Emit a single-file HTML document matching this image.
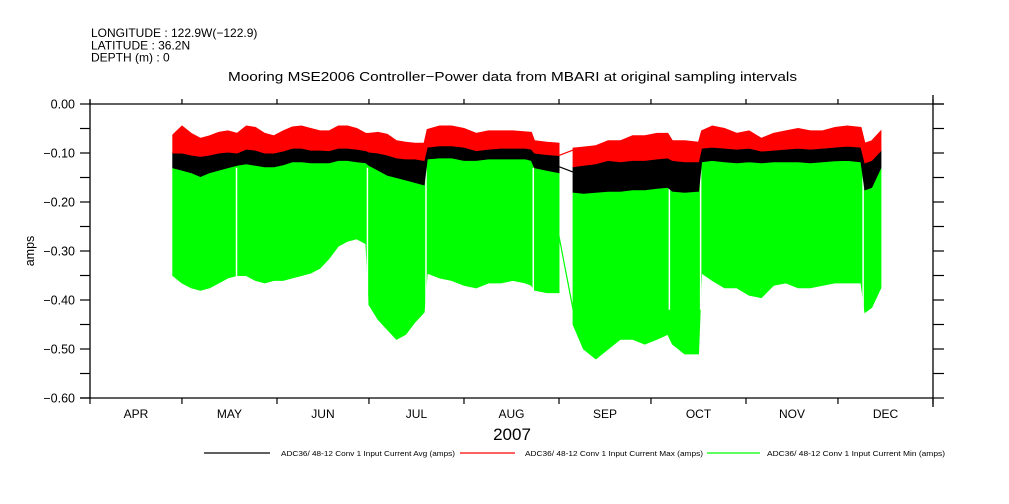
<!DOCTYPE html>
<html><head><meta charset="utf-8"><style>
html,body{margin:0;padding:0;background:#fff;}
svg{display:block;font-family:"Liberation Sans",sans-serif;}
</style></head><body>
<svg id="chart" width="1009" height="504" viewBox="0 0 1009 504" xmlns="http://www.w3.org/2000/svg">
<g font-size="12" fill="#000">
<text x="91" y="37">LONGITUDE : 122.9W(−122.9)</text>
<text x="91" y="49.5">LATITUDE : 36.2N</text>
<text x="91" y="61.5">DEPTH (m) : 0</text>
</g>
<text x="228" y="81" textLength="569" lengthAdjust="spacingAndGlyphs" font-size="13">Mooring MSE2006 Controller−Power data from MBARI at original sampling intervals</text>
<g id="plot"></g>
<g id="axes"></g>
<text transform="translate(34,251) rotate(-90)" text-anchor="middle" font-size="12.5">amps</text>
<text x="512" y="440" text-anchor="middle" font-size="17">2007</text>
<g font-size="7.5">
<line x1="204" y1="453" x2="270" y2="453" stroke="#000" stroke-width="1.2"/>
<text x="281" y="456" textLength="174" lengthAdjust="spacingAndGlyphs">ADC36/ 48-12 Conv 1 Input Current Avg (amps)</text>
<line x1="460" y1="453" x2="515" y2="453" stroke="#f00" stroke-width="1.2"/>
<text x="525" y="456" textLength="178" lengthAdjust="spacingAndGlyphs">ADC36/ 48-12 Conv 1 Input Current Max (amps)</text>
<line x1="707" y1="453" x2="760" y2="453" stroke="#0f0" stroke-width="1.2"/>
<text x="767" y="456" textLength="178" lengthAdjust="spacingAndGlyphs">ADC36/ 48-12 Conv 1 Input Current Min (amps)</text>
</g>
</svg>
<script>
// days since Apr 1 2007
const segA_days=[27,30,33,36,39,42,45,48,51,54,57,60,63,66,69,72,75,78,81,84,87,90,91,94,97,100,103,106,109,110,114,118,122,126,130,134,138,142,144,145,149,153];
const segA_maxHi=[-0.063,-0.045,-0.060,-0.070,-0.065,-0.058,-0.055,-0.060,-0.045,-0.048,-0.060,-0.065,-0.055,-0.047,-0.045,-0.050,-0.055,-0.055,-0.045,-0.045,-0.050,-0.060,-0.060,-0.058,-0.062,-0.075,-0.078,-0.080,-0.080,-0.052,-0.045,-0.045,-0.050,-0.060,-0.055,-0.055,-0.055,-0.057,-0.058,-0.075,-0.078,-0.080];
const segA_avgHi=[-0.100,-0.100,-0.104,-0.107,-0.104,-0.100,-0.098,-0.100,-0.092,-0.094,-0.100,-0.100,-0.096,-0.090,-0.090,-0.094,-0.094,-0.095,-0.090,-0.090,-0.092,-0.095,-0.098,-0.100,-0.104,-0.110,-0.112,-0.112,-0.115,-0.088,-0.085,-0.085,-0.088,-0.095,-0.092,-0.090,-0.090,-0.090,-0.092,-0.100,-0.103,-0.105];
const segA_avgLo=[-0.130,-0.135,-0.140,-0.148,-0.140,-0.135,-0.130,-0.125,-0.122,-0.125,-0.128,-0.128,-0.124,-0.118,-0.118,-0.120,-0.120,-0.120,-0.115,-0.115,-0.118,-0.120,-0.125,-0.135,-0.145,-0.150,-0.155,-0.160,-0.165,-0.112,-0.110,-0.110,-0.115,-0.115,-0.112,-0.112,-0.112,-0.112,-0.115,-0.130,-0.135,-0.140];
const segA_minLo=[-0.35,-0.365,-0.375,-0.38,-0.375,-0.365,-0.355,-0.35,-0.35,-0.36,-0.365,-0.36,-0.36,-0.355,-0.35,-0.345,-0.335,-0.315,-0.29,-0.28,-0.275,-0.285,-0.41,-0.44,-0.46,-0.48,-0.47,-0.445,-0.425,-0.345,-0.355,-0.36,-0.37,-0.375,-0.365,-0.365,-0.36,-0.365,-0.37,-0.38,-0.385,-0.385];
const segB_days=[157.6,161,165,169,173,177,181,185,188.5,190,194,198.5,199.5,203,207,211,215,219,223,227,231,235,239,243,247,251.5,252.8,255,258];
const segB_maxHi=[-0.090,-0.088,-0.085,-0.075,-0.075,-0.065,-0.065,-0.060,-0.060,-0.075,-0.075,-0.078,-0.055,-0.045,-0.050,-0.060,-0.055,-0.070,-0.060,-0.055,-0.050,-0.055,-0.055,-0.048,-0.045,-0.048,-0.080,-0.075,-0.055];
const segB_avgHi=[-0.128,-0.125,-0.122,-0.115,-0.118,-0.115,-0.115,-0.112,-0.110,-0.115,-0.118,-0.118,-0.090,-0.088,-0.090,-0.092,-0.090,-0.096,-0.094,-0.092,-0.090,-0.092,-0.090,-0.088,-0.086,-0.088,-0.120,-0.115,-0.095];
const segB_avgLo=[-0.180,-0.182,-0.180,-0.178,-0.178,-0.175,-0.175,-0.172,-0.170,-0.178,-0.180,-0.178,-0.118,-0.115,-0.118,-0.120,-0.118,-0.120,-0.118,-0.118,-0.118,-0.120,-0.118,-0.116,-0.115,-0.118,-0.175,-0.170,-0.130];
const segB_minLo=[-0.45,-0.50,-0.52,-0.50,-0.48,-0.48,-0.49,-0.48,-0.47,-0.49,-0.51,-0.51,-0.345,-0.36,-0.375,-0.375,-0.39,-0.395,-0.37,-0.365,-0.375,-0.375,-0.37,-0.365,-0.365,-0.365,-0.425,-0.415,-0.375];
const gapDays=[153,157.6];
const gapMax=[-0.105,-0.094];
const gapAvg=[-0.128,-0.139];
const gapMin=[-0.27,-0.42];
const dropoutDays=[47.8,90.5,109.6,144.6,189,199.2,252.2];
const monthTickDays=[0,30,61,91,122,153,183,214,244,275];
const monthLabels=["APR","MAY","JUN","JUL","AUG","SEP","OCT","NOV","DEC"];
const yTickValues=[0,-0.1,-0.2,-0.3,-0.4,-0.5,-0.6];
const yTickLabels=["0.00","-0.10","-0.20","-0.30","-0.40","-0.50","-0.60"];

const X0=90,X1=933,Y0=104,Y1=398;
const xs=d=>X0+d*(X1-X0)/275;
const ys=v=>Y0+(0-v)*(Y1-Y0)/0.6;
const NS="http://www.w3.org/2000/svg";
const plot=document.getElementById('plot'),axes=document.getElementById('axes');
function mk(tag,attrs,parent){const e=document.createElementNS(NS,tag);for(const k in attrs)e.setAttribute(k,attrs[k]);parent.appendChild(e);return e;}
function band(days,hi,lo,color,name){
  let p=days.map((d,i)=>xs(d).toFixed(1)+','+ys(hi[i]).toFixed(1));
  for(let i=days.length-1;i>=0;i--)p.push(xs(days[i]).toFixed(1)+','+ys(lo[i]).toFixed(1));
  const e=mk('polygon',{points:p.join(' '),fill:color,stroke:color,'stroke-width':1},plot);
  
  
}
const segs=[[segA_days,segA_maxHi,segA_avgHi,segA_avgLo,segA_minLo,'a'],[segB_days,segB_maxHi,segB_avgHi,segB_avgLo,segB_minLo,'b']];
segs.forEach(s=>band(s[0],s[3],s[4],'#00ff00','min-series-'+s[5]));
dropoutDays.forEach(d=>{
  const e=mk('line',{x1:xs(d),x2:xs(d),y1:ys(-0.13),y2:ys(-0.42),stroke:'#fff','stroke-width':1.5},plot);
  
  
});
segs.forEach(s=>band(s[0],s[2],s[3],'#000000','avg-series-'+s[5]));
segs.forEach(s=>band(s[0],s[1],s[2],'#ff0000','max-series-'+s[5]));
[[gapMin,'#00ff00','min-gap-line'],[gapAvg,'#000','avg-gap-line'],[gapMax,'#ff0000','max-gap-line']].forEach(g=>{
  const e=mk('line',{x1:xs(gapDays[0]),y1:ys(g[0][0]),x2:xs(gapDays[1]),y2:ys(g[0][1]),stroke:g[1],'stroke-width':1.2},plot);
  
  
});
const ax=[[X0,100,X0,Y1],[X1,95,X1,407],[X0,Y0,944,Y0],[80,Y1,X1,Y1]];
ax.forEach((a,i)=>{
  const e=mk('line',{x1:a[0],y1:a[1],x2:a[2],y2:a[3],stroke:'#000','stroke-width':1.3},axes);
  
  
});
for(let k=0;k<=12;k++){
  const v=-0.05*k,y=ys(v);
  const e=mk('line',{x1:80,x2:X0,y1:y,y2:y,stroke:'#000','stroke-width':1.2},axes);
  
  
  const r=mk('line',{x1:X1,x2:944,y1:y,y2:y,stroke:'#000','stroke-width':1.2},axes);
  
  
}
yTickValues.forEach((v,i)=>{
  const t=mk('text',{x:75,y:ys(v)+4.5,'text-anchor':'end','font-size':12.5},axes);
  t.textContent=yTickLabels[i].replace('-','−');
  
  
});
monthTickDays.forEach((d,i)=>{
  const x=xs(d);
  const b=mk('line',{x1:x,x2:x,y1:Y1,y2:404,stroke:'#000','stroke-width':1.2},axes);
  
  
  const t=mk('line',{x1:x,x2:x,y1:99,y2:Y0,stroke:'#000','stroke-width':1.2},axes);
  
  
  if(i<monthLabels.length){
    const l=mk('text',{x:(x+xs(monthTickDays[i+1]))/2,y:418,'text-anchor':'middle','font-size':12},axes);
    l.textContent=monthLabels[i];
    
    
  }
});
</script>
</body></html>
